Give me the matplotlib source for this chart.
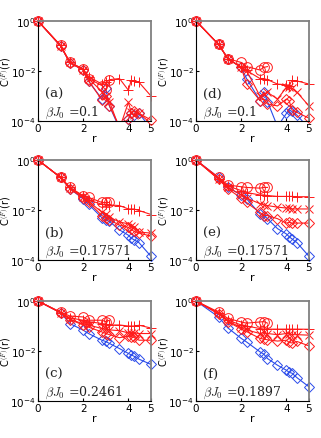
import numpy as np
import matplotlib
matplotlib.use("Agg")
import matplotlib.pyplot as plt

plt.rcParams['mathtext.fontset'] = 'cm'

# distances r
R = [0, 1, 1.414, 2, 2.236, 2.828, 3, 3.162, 3.606, 4, 4.123, 4.243, 4.472, 5]

# panel (a)
a_circ = [1, 0.105, 0.022, 0.012, 0.005, 0.0026, 0.0017, 0.0042]
a_plus = [1, 0.105, 0.022, 0.012, 0.006, 0.003, 0.0035, 0.0045, 0.005, 0.0017, 0.0042, 0.004, 0.0035, 0.001]
a_x = [1, 0.1, 0.022, 0.011, 0.005, 0.0015, 0.001, 0.0006, 5e-5, 5.6e-4, 2.2e-4, 1.8e-4, 2e-4, 8e-5]
a_dia = [1, 0.1, 0.021, 0.011, 0.004, 7e-4, 1e-3, 4e-4, 6e-5, 1.2e-4, 2e-4, 2.5e-4, 2e-4, 1.1e-4]
a_blue = [1, 0.1, 0.021, 0.011, 0.004, 7.6e-4, 2e-3, 4e-4, 5e-5, 1.2e-4, 2e-4, 1.7e-4, 2e-4, 5e-5]

# panel (b)
b_circ = [1, 0.2, 0.08, 0.037, 0.032, 0.02, 0.02, 0.02]
b_plus = [1, 0.2, 0.08, 0.035, 0.025, 0.017, 0.017, 0.016, 0.015, 0.011, 0.011, 0.011, 0.0095, 0.0066]
b_x = [1, 0.2, 0.075, 0.033, 0.022, 0.0082, 0.007, 0.0052, 0.0033, 0.0028, 0.0022, 0.002, 0.0013, 0.0012]
b_dia = [1, 0.2, 0.07, 0.03, 0.02, 0.006, 0.005, 0.004, 0.0025, 0.002, 0.0017, 0.0014, 0.0012, 9e-4]
b_blue = [1, 0.2, 0.07, 0.028, 0.017, 0.0049, 0.004, 0.0035, 0.0016, 9.8e-4, 7.5e-4, 6.5e-4, 4.9e-4, 1.4e-4]

# panel (c)
c_circ = [1, 0.36, 0.25, 0.23, 0.17, 0.17, 0.15, 0.17]
c_plus = [1, 0.34, 0.21, 0.17, 0.15, 0.125, 0.12, 0.11, 0.11, 0.1, 0.1, 0.1, 0.107, 0.083]
c_x = [1, 0.34, 0.19, 0.12, 0.11, 0.079, 0.075, 0.07, 0.065, 0.053, 0.053, 0.053, 0.05, 0.05]
c_dia = [1, 0.34, 0.18, 0.11, 0.09, 0.058, 0.05, 0.045, 0.034, 0.04, 0.037, 0.035, 0.027, 0.027]
c_blue = [1, 0.34, 0.125, 0.068, 0.05, 0.027, 0.024, 0.02, 0.0125, 0.008, 0.007, 0.0062, 0.0047, 0.0029]

# panel (d)
d_circ = [1, 0.115, 0.031, 0.022, 0.015, 0.011, 0.014, 0.015]
d_plus = [1, 0.115, 0.031, 0.014, 0.0105, 0.005, 0.005, 0.0045, 0.003, 0.0028, 0.0026, 0.0042, 0.004, 0.003]
d_x = [1, 0.115, 0.031, 0.014, 0.0105, 0.001, 0.0012, 0.0014, 7.6e-4, 0.0022, 0.0022, 0.002, 0.0014, 4e-4]
d_dia = [1, 0.115, 0.031, 0.014, 0.003, 6.6e-4, 7.6e-4, 4.8e-4, 4e-4, 7.6e-4, 6.5e-4, 2.8e-4, 2.2e-4, 1.3e-4]
d_blue = [1, 0.115, 0.031, 0.014, 0.005, 6.6e-4, 1.5e-3, 6e-4, 6e-5, 2e-4, 2.8e-4, 2.4e-4, 1.7e-4, 5e-5]

# panel (e)
e_circ = [1, 0.2, 0.1, 0.085, 0.08, 0.075, 0.08, 0.08]
e_plus = [1, 0.18, 0.09, 0.06, 0.05, 0.04, 0.04, 0.038, 0.035, 0.035, 0.035, 0.035, 0.034, 0.034]
e_x = [1, 0.17, 0.08, 0.04, 0.03, 0.018, 0.016, 0.015, 0.013, 0.012, 0.012, 0.011, 0.011, 0.011]
e_dia = [1, 0.17, 0.07, 0.03, 0.02, 0.008, 0.006, 0.006, 0.0045, 0.003, 0.0032, 0.003, 0.003, 0.003]
e_blue = [1, 0.2, 0.08, 0.04, 0.028, 0.007, 0.006, 0.0045, 0.0018, 0.0011, 8.5e-4, 7e-4, 4.9e-4, 1.4e-4]

# panel (f)
f_circ = [1, 0.36, 0.2, 0.145, 0.13, 0.145, 0.15, 0.13]
f_plus = [1, 0.33, 0.17, 0.11, 0.1, 0.079, 0.076, 0.075, 0.075, 0.075, 0.075, 0.075, 0.075, 0.074]
f_x = [1, 0.32, 0.16, 0.085, 0.07, 0.05, 0.055, 0.05, 0.045, 0.05, 0.048, 0.045, 0.045, 0.043]
f_dia = [1, 0.3, 0.15, 0.075, 0.06, 0.032, 0.03, 0.028, 0.025, 0.027, 0.022, 0.021, 0.024, 0.016]
f_blue = [1, 0.23, 0.083, 0.032, 0.023, 0.0093, 0.0075, 0.005, 0.0027, 0.0017, 0.0014, 0.0013, 8.5e-4, 3.7e-4]

labels = ['(a)', '(b)', '(c)', '(d)', '(e)', '(f)']
betas = ['0.1', '0.17571', '0.2461', '0.1', '0.17571', '0.1897']
panels = [
    (a_circ, a_plus, a_x, a_dia, a_blue),
    (b_circ, b_plus, b_x, b_dia, b_blue),
    (c_circ, c_plus, c_x, c_dia, c_blue),
    (d_circ, d_plus, d_x, d_dia, d_blue),
    (e_circ, e_plus, e_x, e_dia, e_blue),
    (f_circ, f_plus, f_x, f_dia, f_blue),
]

W, H = 321, 439
fig = plt.figure(figsize=(W / 100, H / 100), dpi=100)
lefts = [38, 196]
tops = [22, 161, 302]
aw, ah = 113, 100
ylab_x = [(13 - 38) / 113, (171 - 196) / 113]

RED = '#ff1a1a'
BLUE = '#2a4bea'


def draw(ax, y, marker, color, ms):
    y = np.array(y, dtype=float)
    r = np.array(R[:len(y)])
    ax.plot(r, y, '-', color=color, lw=0.8, clip_on=True)
    m = (y >= 0.95e-4) & (y <= 1.05)
    ax.plot(r[m], y[m], linestyle='none', marker=marker, color=color,
            mfc='none', ms=ms, mew=0.7, clip_on=False)


for i, (lab, bt, series) in enumerate(zip(labels, betas, panels)):
    col = i // 3
    row = i % 3
    x0 = lefts[col] / W
    y0 = 1 - (tops[row] + ah) / H
    ax = fig.add_axes([x0, y0, aw / W, ah / H])
    circ, plus, xs, dia, blue = series
    draw(ax, blue, 'D', BLUE, 5)
    draw(ax, dia, 'D', RED, 5)
    draw(ax, xs, 'x', RED, 5.5)
    draw(ax, plus, '+', RED, 7)
    draw(ax, circ, 'o', RED, 7)
    ax.set_yscale('log')
    ax.set_xlim(0, 5)
    ax.set_ylim(1e-4, 1)
    ax.set_xticks([0, 2, 4, 5])
    ax.set_yticks([1e-4, 1e-2, 1])
    ax.minorticks_off()
    ax.tick_params(direction='in', length=2, labelsize=7.5, pad=1.5)
    for s in ['top', 'right']:
        ax.spines[s].set_color('#808080')
        ax.spines[s].set_linewidth(1.3)
    for s in ['left', 'bottom']:
        ax.spines[s].set_linewidth(0.8)
    ax.set_xlabel('r', fontsize=8, labelpad=0)
    ax.set_ylabel(r'C$^{(F)}$(r)', fontsize=7)
    ax.yaxis.set_label_coords(ylab_x[col], 0.5)
    ax.text(0.06, 0.24, lab, transform=ax.transAxes, fontsize=9.5,
            family='DejaVu Serif', color='#222222')
    ax.text(0.06, 0.06, r'$\beta J_0$ =' + bt, transform=ax.transAxes,
            fontsize=9, math_fontfamily='cm', family='DejaVu Serif', color='#222222')

fig.savefig('out.png', dpi=100)
